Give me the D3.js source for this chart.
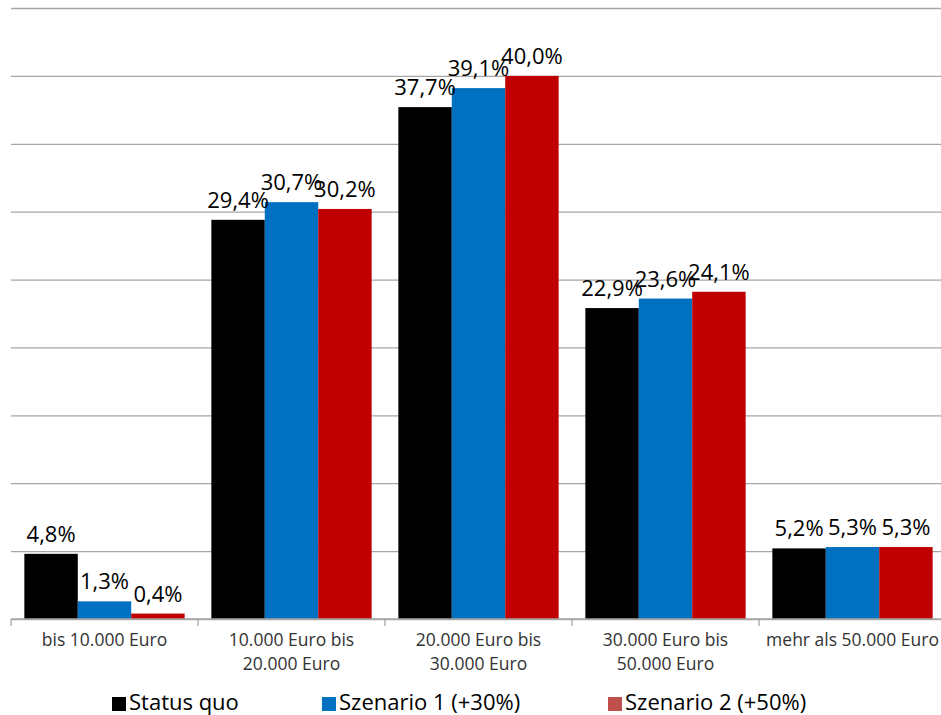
<!DOCTYPE html>
<html>
<head>
<meta charset="utf-8">
<script src="https://cdn.jsdelivr.net/npm/d3@7"></script>
<style>
  html, body { margin: 0; padding: 0; background: #ffffff; }
  svg { display: block; }
  text { font-family: "Open Sans", "Noto Sans", sans-serif; }
</style>
</head>
<body>
<svg id="chart" width="941" height="715"></svg>
<script>
// Income groups (x axis)
const categories = [
  "bis 10.000 Euro",
  "10.000 Euro bis 20.000 Euro",
  "20.000 Euro bis 30.000 Euro",
  "30.000 Euro bis 50.000 Euro",
  "mehr als 50.000 Euro"
];
// Share per group, in percent
const seriesNames = ["Status quo", "Szenario 1 (+30%)", "Szenario 2 (+50%)"];
const statusQuo  = [4.8, 29.4, 37.7, 22.9, 5.2];
const szenario1  = [1.3, 30.7, 39.1, 23.6, 5.3];
const szenario2  = [0.4, 30.2, 40.0, 24.1, 5.3];
const gridTicks  = [0, 5, 10, 15, 20, 25, 30, 35, 40, 45];

const barColors    = ["#000000", "#0070C0", "#C00000"];
const legendColors = ["#000000", "#0070C0", "#C0504D"];
const seriesValues = [statusQuo, szenario1, szenario2];

const svg = d3.select("#chart");

const plot = { left: 11, right: 946, top: 8, bottom: 619 };

const x = d3.scaleBand()
  .domain(categories)
  .range([plot.left, plot.right])
  .padding(0);

const xInner = d3.scaleBand()
  .domain(seriesNames)
  .range([0, x.bandwidth()])
  .paddingInner(0)
  .paddingOuter(0.25);

const y = d3.scaleLinear()
  .domain([0, 45])
  .range([plot.bottom, plot.top]);

// Horizontal gridlines
const grid = svg.append("g")
  .attr("transform", `translate(${plot.left},0)`)
  .call(d3.axisLeft(y).tickValues(gridTicks).tickSize(-(941 - plot.left)).tickFormat(""));
grid.select(".domain").remove();
grid.selectAll(".tick line")
  .attr("stroke", "#a6a6a6")
  .attr("stroke-width", 1.3);

// Bars
const groups = svg.append("g").selectAll("g")
  .data(categories)
  .join("g")
  .attr("transform", d => `translate(${x(d)},0)`);

const rows = (d, i) => seriesNames.map((s, k) => ({ s, k, v: seriesValues[k][i] }));

groups.selectAll("rect")
  .data((d, i) => rows(d, i))
  .join("rect")
  .attr("x", d => xInner(d.s))
  .attr("y", d => y(d.v))
  .attr("width", xInner.bandwidth())
  .attr("height", d => y(0) - y(d.v))
  .attr("fill", d => barColors[d.k]);

// Value labels
groups.selectAll("text.value")
  .data((d, i) => rows(d, i))
  .join("text")
  .attr("class", "value")
  .attr("x", d => xInner(d.s) + xInner.bandwidth() / 2)
  .attr("y", d => y(d.v) - 12)
  .attr("text-anchor", "middle")
  .attr("font-size", 22)
  .attr("fill", "#000000")
  .text(d => d3.format(".1f")(d.v).replace(".", ",") + "%");

// Category axis
const xAxis = svg.append("g")
  .attr("transform", `translate(0,${plot.bottom})`)
  .call(d3.axisBottom(x).tickSize(0).tickPadding(15));
xAxis.select(".domain").remove();
xAxis.selectAll(".tick text")
  .attr("font-size", 17.5)
  .attr("fill", "#333333")
  .attr("font-family", "'Open Sans', 'Noto Sans', sans-serif")
  .each(function (d) {
    const t = d3.select(this);
    const words = d.split(" ");
    t.text(null);
    let line = [];
    let tspan = t.append("tspan").attr("x", 0).attr("dy", "0.71em");
    for (const w of words) {
      line.push(w);
      tspan.text(line.join(" "));
      if (tspan.node().getComputedTextLength() > x.bandwidth() - 6 && line.length > 1) {
        line.pop();
        tspan.text(line.join(" "));
        line = [w];
        tspan = t.append("tspan").attr("x", 0).attr("dy", "24px").text(w);
      }
    }
  });

// Axis line and category separators
svg.append("line")
  .attr("x1", plot.left).attr("x2", 941)
  .attr("y1", plot.bottom).attr("y2", plot.bottom)
  .attr("stroke", "#a6a6a6").attr("stroke-width", 1.3);
svg.append("g").selectAll("line")
  .data(categories.map(c => x(c)).concat([plot.right]))
  .join("line")
  .attr("x1", d => d).attr("x2", d => d)
  .attr("y1", plot.bottom).attr("y2", plot.bottom + 7)
  .attr("stroke", "#a6a6a6").attr("stroke-width", 1.3);

// Legend
const legendX = [112, 322, 608];
const legend = svg.append("g").selectAll("g")
  .data(seriesNames)
  .join("g")
  .attr("transform", (d, i) => `translate(${legendX[i]},0)`);
legend.append("rect")
  .attr("x", 0).attr("y", 697)
  .attr("width", 14).attr("height", 14)
  .attr("fill", (d, i) => legendColors[i]);
legend.append("text")
  .attr("x", 17).attr("y", 710)
  .attr("font-size", 22)
  .attr("fill", "#000000")
  .text(d => d);
</script>
</body>
</html>
